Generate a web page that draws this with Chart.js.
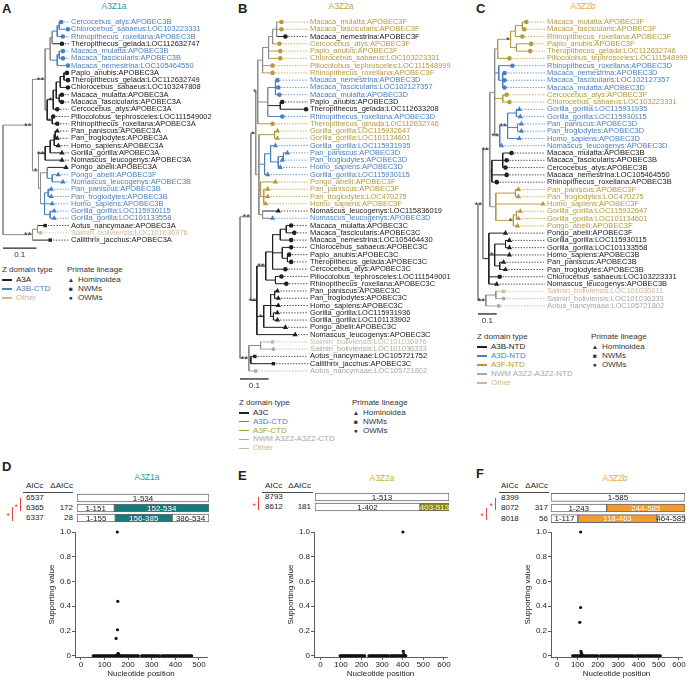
<!DOCTYPE html>
<html>
<head>
<meta charset="utf-8">
<title>A3Z trees and breakpoint support</title>
<script src="https://cdn.jsdelivr.net/npm/chart.js@4.4.1/dist/chart.umd.min.js"></script>
<style>
  html, body { margin: 0; padding: 0; background: #fff; }
  #fig { position: relative; width: 696px; height: 680px; overflow: hidden;
         font-family: "Liberation Sans", Arial, Helvetica, sans-serif; color: #222; }
  #fig canvas { position: absolute; }
  .t { position: absolute; white-space: nowrap; font-size: 8px; line-height: 10px; }
  .ln { position: absolute; }
</style>
</head>
<body>
<div id="fig"></div>
<script>
/* global Chart */
(function () {
  "use strict";

  // ---------- A: A3Z1a tree ----------
  const leavesA = [
    "Cercocebus_atys:APOBEC3B", "Chlorocebus_sabaeus:LOC103223331", "Rhinopithecus_roxellana:APOBEC3B",
    "Theropithecus_gelada:LOC112632747", "Macaca_mulatta:APOBEC3B", "Macaca_fascicularis:APOBEC3B",
    "Macaca_nemestrina:LOC105464550", "Papio_anubis:APOBEC3A", "Theropithecus_gelada:LOC112632749",
    "Chlorocebus_sabaeus:LOC103247808", "Macaca_mulatta:APOBEC3A", "Macaca_fascicularis:APOBEC3A",
    "Cercocebus_atys:APOBEC3A", "Piliocolobus_tephrosceles:LOC111549002", "Rhinopithecus_roxellana:APOBEC3A",
    "Pan_paniscus:APOBEC3A", "Pan_troglodytes:APOBEC3A", "Homo_sapiens:APOBEC3A", "Gorilla_gorilla:APOBEC3A",
    "Nomascus_leucogenys:APOBEC3A", "Pongo_abelii:APOBEC3A", "Pongo_abelii:APOBEC3F",
    "Nomascus_leucogenys:APOBEC3B", "Pan_paniscus:APOBEC3B", "Pan_troglodytes:APOBEC3B",
    "Homo_sapiens:APOBEC3B", "Gorilla_gorilla:LOC115930115", "Gorilla_gorilla:LOC101133558",
    "Aotus_nancymaae:APOBEC3A", "Saimiri_boliviensis:LOC101036976", "Callithrix_jacchus:APOBEC3A",
  ];
  const domainsA = ["A3A", "A3B-CTD", "Other"];
  const typesA = [1, 1, 1, 0, 1, 1, 1, 0, 0, 0, 0, 0, 0, 0, 0, 0, 0, 0, 0, 0, 0, 1, 1, 1, 1, 1, 1, 1, 0, 2, 0];
  // newick-like: leaf index or support label, ":" distance from the root
  const treeA =
    "((((((((0:0.174,1:0.194):0.168,2:0.179):0.162,3:0.176):0.147,((4:0.179,5:0.179):0.168,6:0.194):0.162):0.141," +
    "(((((7:0.191,8:0.194):0.182,9:0.194):0.171,(10:0.176,11:0.176):0.168):0.159,12:0.162)*:0.150," +
    "(13:0.150,14:0.162)*:0.147):0.132)**:0.126," +
    "(((((15:0.162,16:0.162):0.156,17:0.165):0.153,18:0.176):0.141,19:0.176)**:0.126," +
    "((20:0.188,(21:0.165,22:0.179):0.147):0.132,((23:0.144,24:0.144):0.135,25:0.147,(26:0.153,27:0.153):0.141):0.124):0.112)*:0.106)**:0.088," +
    "((28:0.126,29:0.112):0.103,30:0.141)**:0.088):0";

  // ---------- B: A3Z2a tree ----------
  const leavesB = [
    "Macaca_mulatta:APOBEC3F", "Macaca_fascicularis:APOBEC3F", "Macaca_nemestrina:APOBEC3F",
    "Cercocebus_atys:APOBEC3F", "Papio_anubis:APOBEC3F", "Chlorocebus_sabaeus:LOC103223331",
    "Piliocolobus_tephrosceles:LOC111548999", "Rhinopithecus_roxellana:APOBEC3F", "Macaca_nemestrina:APOBEC3D",
    "Macaca_fascicularis:LOC102127357", "Macaca_mulatta:APOBEC3D", "Papio_anubis:APOBEC3D",
    "Theropithecus_gelada:LOC112633208", "Rhinopithecus_roxellana:APOBEC3D", "Theropithecus_gelada:LOC112632746",
    "Gorilla_gorilla:LOC115932647", "Gorilla_gorilla:LOC101134601", "Gorilla_gorilla:LOC115931935",
    "Pan_paniscus:APOBEC3D", "Pan_troglodytes:APOBEC3D", "Homo_sapiens:APOBEC3D", "Gorilla_gorilla:LOC115930115",
    "Pongo_abelii:APOBEC3F", "Pan_paniscus:APOBEC3F", "Pan_troglodytes:LOC470275", "Homo_sapiens:APOBEC3F",
    "Nomascus_leucogenys:LOC115836019", "Nomascus_leucogenys:APOBEC3D", "Macaca_mulatta:APOBEC3C",
    "Macaca_fascicularis:APOBEC3C", "Macaca_nemestrina:LOC105464430", "Chlorocebus_sabaeus:APOBEC3C",
    "Papio_anubis:APOBEC3C", "Theropithecus_gelada:APOBEC3C", "Cercocebus_atys:APOBEC3C",
    "Piliocolobus_tephrosceles:LOC111549001", "Rhinopithecus_roxellana:APOBEC3C", "Pan_paniscus:APOBEC3C",
    "Pan_troglodytes:APOBEC3C", "Homo_sapiens:APOBEC3C", "Gorilla_gorilla:LOC115931936",
    "Gorilla_gorilla:LOC101133902", "Pongo_abelii:APOBEC3C", "Nomascus_leucogenys:APOBEC3C",
    "Saimiri_boliviensis:LOC101036976", "Saimiri_boliviensis:LOC101036333", "Aotus_nancymaae:LOC105721752",
    "Callithrix_jacchus:APOBEC3C", "Aotus_nancymaae:LOC105721802",
  ];
  const domainsB = ["A3C", "A3D-CTD", "A3F-CTD", "NWM A3Z2-A3Z2-CTD", "Other"];
  const typesB = [
    2, 2, 0, 2, 2, 2, 2, 2, 1, 1, 1, 0, 0, 1, 2, 2, 2, 1, 1, 1, 1, 1, 2, 2, 2, 2, 0, 1,
    0, 0, 0, 0, 0, 0, 0, 0, 0, 0, 0, 0, 0, 0, 0, 0, 4, 3, 0, 0, 3,
  ];
  const treeB =
    "((((((((0:0.145,1:0.145,2:0.159):0.128,3:0.138):0.114,4:0.141,5:0.141):0.100,6:0.114,7:0.114):0.079," +
    "((8:0.131,9:0.134,10:0.138):0.124,(11:0.148,12:0.231):0.141,13:0.148):0.097,14:0.114)*:0.062," +
    "((15:0.131,16:0.131):0.121,((17:0.124,((18:0.166,19:0.148):0.152,20:0.141):0.134):0.107,21:0.097):0.086," +
    "(22:0.124,(23:0.097,24:0.097,25:0.090):0.083):0.072,(26:0.134,27:0.114):0.079):0.066)*:0.055," +
    "(((((28:0.179,29:0.190):0.162,30:0.179):0.141,(31:0.179,(32:0.172,33:0.179):0.166):0.148,34:0.159):0.114," +
    "(35:0.145,36:0.162):0.124)**:0.090,(((37:0.131,38:0.134):0.121,39:0.134,(40:0.131,41:0.131):0.117):0.107," +
    "42:0.159)*:0.083,43:0.193)**:0.059)**:0.038," +
    "((44:0.114,45:0.117):0.072,(46:0.052,47:0.117):0.038,48:0.055)**:0.031):0";

  // ---------- C: A3Z2b tree ----------
  const leavesC = [
    "Macaca_mulatta:APOBEC3F", "Macaca_fascicularis:APOBEC3F", "Rhinopithecus_roxellana:APOBEC3F",
    "Papio_anubis:APOBEC3F", "Theropithecus_gelada:LOC112632746", "Piliocolobus_tephrosceles:LOC111548999",
    "Rhinopithecus_roxellana:APOBEC3D", "Macaca_nemestrina:APOBEC3D", "Macaca_fascicularis:LOC102127357",
    "Macaca_mulatta:APOBEC3D", "Cercocebus_atys:APOBEC3F", "Chlorocebus_sabaeus:LOC103223331",
    "Gorilla_gorilla:LOC115931935", "Gorilla_gorilla:LOC115930115", "Pan_paniscus:APOBEC3D",
    "Pan_troglodytes:APOBEC3D", "Homo_sapiens:APOBEC3D", "Nomascus_leucogenys:APOBEC3D",
    "Macaca_mulatta:APOBEC3B", "Macaca_fascicularis:APOBEC3B", "Cercocebus_atys:APOBEC3B",
    "Macaca_nemestrina:LOC105464550", "Rhinopithecus_roxellana:APOBEC3B", "Pan_paniscus:APOBEC3F",
    "Pan_troglodytes:LOC470275", "Homo_sapiens:APOBEC3F", "Gorilla_gorilla:LOC115932647",
    "Gorilla_gorilla:LOC101134601", "Pongo_abelii:APOBEC3F", "Pongo_abelii:APOBEC3F",
    "Gorilla_gorilla:LOC115930115", "Gorilla_gorilla:LOC101133558", "Homo_sapiens:APOBEC3B",
    "Pan_paniscus:APOBEC3B", "Pan_troglodytes:APOBEC3B", "Chlorocebus_sabaeus:LOC103223331",
    "Nomascus_leucogenys:APOBEC3B", "Saimiri_boliviensis:LOC101036011", "Saimiri_boliviensis:LOC101036333",
    "Aotus_nancymaae:LOC105721802",
  ];
  const domainsC = ["A3B-NTD", "A3D-NTD", "A3F-NTD", "NWM A3Z2-A3Z2-NTD", "Other"];
  const typesC = [
    2, 2, 2, 2, 2, 2, 1, 1, 1, 1, 2, 2, 1, 1, 1, 1, 1, 1, 0, 0, 0, 0, 0,
    2, 2, 2, 2, 2, 2, 0, 0, 0, 0, 0, 0, 0, 0, 4, 3, 3,
  ];
  const treeC =
    "((((((((0:0.258,1:0.247):0.237,2:0.237):0.200,(3:0.284,4:0.279):0.205)*:0.174,5:0.168):0.105," +
    "(6:0.184,(7:0.142,8:0.142,9:0.142):0.132):0.111,(10:0.153,11:0.168):0.132," +
    "(((12:0.221,13:0.226):0.205,(14:0.232,15:0.232):0.211,16:0.221)**:0.158,17:0.126)**:0.116):0.089," +
    "((18:0.179,19:0.153,20:0.147):0.132,21:0.153,22:0.100):0.074," +
    "((23:0.216,24:0.216):0.200,25:0.347,((26:0.226,27:0.216):0.205,28:0.211)*:0.189):0.095)**:0.063," +
    "(29:0.147,((30:0.168,31:0.168):0.147,32:0.168,(33:0.137,34:0.147):0.116)*:0.089,35:0.116,36:0.100):0.058)**:0.026," +
    "((37:0.137,38:0.137):0.095,39:0.111)**:0.042):0";

  const SCALE_BAR = 0.1;
  const lineageNames = ["Hominoidea", "NWMs", "OWMs"];
  const hominoidGenera = ["Homo", "Pan", "Gorilla", "Pongo", "Nomascus"];
  const nwmGenera = ["Aotus", "Saimiri", "Callithrix"];

  // ---------- D/E/F: breakpoint models and supporting values ----------
  const aiccD = [6537, 6365, 6337];
  const deltaD = [null, 172, 28];
  const segmentsD = [[[1, 534]], [[1, 151], [152, 534]], [[1, 155], [156, 385], [386, 534]]];
  const highlightD = [[0], [0, 1], [0, 1, 0]];
  const lengthD = 534;
  const zeroD = [
    52, 57, 62, 66, 71, 76, 81, 86, 90, 95, 100, 105, 110, 114, 119, 124, 129, 134, 139, 143, 148, 152, 157,
    162, 167, 171, 176, 181, 186, 191, 195, 200, 205, 210, 214, 219, 224, 229, 234, 239, 243,
    257, 262, 267, 272, 277, 281, 286, 291, 296, 301, 306, 311, 316, 321, 326, 332,
    342, 347, 352, 357, 362, 367, 372, 377, 382, 386, 391, 396, 401, 406, 411, 416, 421, 426, 431, 436,
    441, 446, 451, 456, 461, 465, 469,
  ];
  const peakD = [[149, 0.14], [155, 0.21], [156, 0.44], [154, 1.0], [158, 0.02], [160, 0.012], [153, 0.008]];
  const xTicksD = [0, 100, 200, 300, 400, 500];

  const aiccE = [8793, 8612];
  const deltaE = [null, 181];
  const segmentsE = [[[1, 513]], [[1, 402], [403, 513]]];
  const highlightE = [[0], [0, 1]];
  const lengthE = 513;
  const zeroE = [
    96, 101, 106, 111, 116, 121, 126, 131, 136, 141, 146, 151, 156, 161, 166, 171, 176, 181, 186, 191, 196,
    201, 206, 211, 215, 236, 241, 246, 251, 256, 261, 266, 271, 276, 281, 286, 291, 296, 301, 306, 311,
    316, 321, 326, 330, 341, 346, 351, 356, 361, 366, 371, 376, 381, 386, 391, 396, 401, 406, 411, 415,
  ];
  const peakE = [[401, 1.0], [403, 0.035], [405, 0.012], [408, 0.006]];
  const xTicksE = [0, 100, 200, 300, 400, 500, 600];

  const aiccF = [8399, 8072, 8018];
  const deltaF = [null, 317, 56];
  const segmentsF = [[[1, 585]], [[1, 243], [244, 585]], [[1, 117], [118, 463], [464, 585]]];
  const highlightF = [[0], [0, 1], [0, 1, 0]];
  const lengthF = 585;
  const zeroF = [
    76, 82, 88, 94, 100, 106, 112, 118, 124, 130, 136, 142, 148, 154, 160, 166, 172, 178, 184, 190, 196, 202,
    214, 220, 226, 232, 238, 244, 250, 256, 262, 268, 274, 280, 286, 292, 298, 304, 310, 316, 322, 328, 334,
    340, 346, 352, 358, 364, 370, 376, 388, 394, 400, 406, 412, 418, 424, 430, 436, 442, 448, 454, 460, 466,
    472, 478, 484, 490, 496, 502, 508,
  ];
  const peakF = [[111, 0.27], [115, 0.39], [115, 1.0], [117, 0.035], [119, 0.02], [121, 0.012]];
  const xTicksF = [0, 100, 200, 300, 400, 500, 600];

  const yTicks = [0, 0.2, 0.4, 0.6, 0.8, 1.0];

  // ---------- styles ----------
  const FONT = '"Liberation Sans", Arial, Helvetica, sans-serif';
  const LEAF_FONT = 7.5;
  const BLACK = "#202020";
  const BLUE = "#4a7fc0";
  const GOLD = "#b59a3c";
  const NWMGREY = "#a8a8a8";
  const TAN = "#cfb796";
  const MIXED = "#8c8c8c";
  const RED = "#e5403b";
  const palA = [BLACK, BLUE, TAN];
  const palBC = [BLACK, BLUE, GOLD, NWMGREY, TAN];

  Chart.defaults.font.family = FONT;
  Chart.defaults.font.size = 8;
  Chart.defaults.color = "#222";

  const fig = document.getElementById("fig");

  function addText(x, y, s, o = {}) {
    const el = document.createElement("div");
    el.className = "t";
    el.textContent = s;
    el.style.left = x + "px";
    el.style.top = y + "px";
    const ax = o.align === "right" ? "-100%" : o.align === "center" ? "-50%" : "0";
    el.style.transform = `translate(${ax},-50%)`;
    if (o.color) el.style.color = o.color;
    if (o.size) el.style.fontSize = o.size + "px";
    if (o.bold) el.style.fontWeight = "bold";
    fig.appendChild(el);
    return el;
  }

  function addRule(x, y, w, h, color) {
    const el = document.createElement("div");
    el.className = "ln";
    Object.assign(el.style, { left: x + "px", top: y + "px", width: w + "px", height: h + "px", background: color });
    fig.appendChild(el);
  }

  function addCanvas(left, top, w, h) {
    const c = document.createElement("canvas");
    c.width = w;
    c.height = h;
    Object.assign(c.style, { left: left + "px", top: top + "px", width: w + "px", height: h + "px" });
    fig.appendChild(c);
    return c;
  }

  function parseTree(str) {
    let i = 0;
    function node() {
      const nd = { children: [], depth: 0 };
      if (str[i] === "(") {
        i++;
        nd.children.push(node());
        while (str[i] === ",") {
          i++;
          nd.children.push(node());
        }
        i++;
      }
      let name = "";
      while (i < str.length && !":,()".includes(str[i])) name += str[i++];
      if (str[i] === ":") {
        i++;
        let num = "";
        while (i < str.length && !",()".includes(str[i])) num += str[i++];
        nd.depth = parseFloat(num);
      }
      if (nd.children.length) nd.support = name;
      else nd.leaf = parseInt(name, 10);
      return nd;
    }
    return node();
  }

  function lineageOf(label) {
    const genus = label.split("_")[0];
    return hominoidGenera.includes(genus) ? 0 : nwmGenera.includes(genus) ? 1 : 2;
  }

  function drawTree(t) {
    const { leaves, types, pal, g } = t;
    const n = leaves.length;
    const root = parseTree(t.newick);

    (function place(nd) {
      if (!nd.children.length) {
        nd.y = nd.leaf;
        nd.tipTypes = [types[nd.leaf]];
        return;
      }
      nd.children.forEach(place);
      nd.y = (nd.children[0].y + nd.children[nd.children.length - 1].y) / 2;
      nd.tipTypes = nd.children.flatMap((c) => c.tipTypes);
    })(root);

    const colorOf = (nd) => (nd.tipTypes.every((v) => v === nd.tipTypes[0]) ? pal[nd.tipTypes[0]] : MIXED);
    const branches = new Map();
    const addSeg = (c, x0, y0, x1, y1) => {
      if (!branches.has(c)) branches.set(c, []);
      branches.get(c).push({ x: x0, y: y0 }, { x: x1, y: y1 }, { x: null, y: null });
    };
    const supports = [];
    const tips = [];
    (function walk(nd) {
      if (!nd.children.length) {
        tips.push({ x: nd.depth, y: nd.leaf });
        return;
      }
      const first = nd.children[0];
      const last = nd.children[nd.children.length - 1];
      addSeg(colorOf(nd), nd.depth, first.y, nd.depth, last.y);
      nd.children.forEach((c) => {
        addSeg(colorOf(c), nd.depth, c.y, c.depth, c.y);
        walk(c);
      });
      if (nd.support) supports.push(nd);
    })(root);

    // geometry
    const top = Math.round(g.leaf0Y - g.pitch / 2);
    const yMin = -(g.leaf0Y - top) / g.pitch;
    const chartH = Math.round((n + 0.7 - yMin) * g.pitch);
    const yMax = yMin + chartH / g.pitch;
    const areaRight = g.labelX - 2;
    const xMax = ((areaRight - g.rootX) / g.barPx) * SCALE_BAR;
    const cLeft = g.rootX - 3;
    const cTop = top - 8;
    const cW = g.right - cLeft;
    const labelW = g.right - areaRight;
    const canvas = addCanvas(cLeft, cTop, cW, chartH + 16);

    const connectors = new Map();
    tips.forEach((p) => {
      const c = pal[types[p.y]];
      if (!connectors.has(c)) connectors.set(c, []);
      connectors.get(c).push({ x: p.x, y: p.y }, { x: xMax, y: p.y }, { x: null, y: null });
    });

    const styles = ["triangle", "rect", "circle"];
    const radii = [3.1, 2.4, 2.3];
    const datasets = [
      {
        data: tips,
        showLine: false,
        pointStyle: (ctx) => styles[lineageOf(leaves[ctx.raw.y])],
        pointRadius: (ctx) => radii[lineageOf(leaves[ctx.raw.y])],
        backgroundColor: (ctx) => pal[types[ctx.raw.y]],
        borderWidth: 0,
        clip: false,
      },
    ];
    branches.forEach((pts, c) =>
      datasets.push({ data: pts, showLine: true, borderColor: c, borderWidth: 1, pointRadius: 0, clip: false })
    );
    connectors.forEach((pts, c) =>
      datasets.push({
        data: pts,
        showLine: true,
        borderColor: c,
        borderWidth: 0.8,
        borderDash: [1.4, 1.4],
        pointRadius: 0,
        clip: false,
      })
    );
    const barY = n + 0.1;
    datasets.push({
      data: [{ x: 0, y: barY }, { x: SCALE_BAR, y: barY }],
      showLine: true,
      borderColor: "#222",
      borderWidth: 1.3,
      pointRadius: 0,
      clip: false,
    });

    new Chart(canvas, {
      type: "scatter",
      data: { datasets },
      options: {
        responsive: false,
        animation: false,
        devicePixelRatio: 1,
        events: [],
        layout: { padding: { left: 3, right: 0, top: 8, bottom: 8 } },
        plugins: { legend: { display: false }, tooltip: { enabled: false } },
        scales: {
          x: { type: "linear", display: false, min: 0, max: xMax },
          y: {
            type: "linear",
            position: "right",
            reverse: true,
            min: yMin,
            max: yMax,
            grid: { display: false, drawTicks: false },
            border: { display: false },
            afterBuildTicks: (ax) => {
              ax.ticks = leaves.map((_, i) => ({ value: i }));
            },
            afterFit: (ax) => {
              ax.width = labelW;
            },
            ticks: {
              autoSkip: false,
              padding: 2,
              font: { size: LEAF_FONT },
              color: (ctx) => pal[types[ctx.tick.value]],
              callback: (v) => leaves[v],
            },
          },
        },
      },
      plugins: [
        {
          id: "treeText",
          afterDatasetsDraw(chart) {
            const { ctx } = chart;
            const xs = chart.scales.x;
            const ys = chart.scales.y;
            ctx.save();
            ctx.fillStyle = "#333";
            ctx.font = `9.5px ${FONT}`;
            ctx.textAlign = "right";
            ctx.textBaseline = "alphabetic";
            supports.forEach((nd) => {
              ctx.fillText(nd.support, xs.getPixelForValue(nd.depth) - 1, ys.getPixelForValue(nd.y) + 3.5);
            });
            ctx.font = `8px ${FONT}`;
            ctx.textAlign = "center";
            ctx.textBaseline = "top";
            ctx.fillText(String(SCALE_BAR), xs.getPixelForValue(SCALE_BAR / 2), ys.getPixelForValue(barY) + 3);
            ctx.restore();
          },
        },
      ],
    });
  }

  function drawTreeLegend(l, domains, pal) {
    addText(l.x, l.y, "Z domain type", { color: "#333" });
    domains.forEach((d, i) => {
      const y = l.y + 10 + i * l.step;
      addRule(l.x, y - 0.6, 10, 1.3, pal[i]);
      addText(l.x + 14, y, d, { color: pal[i] });
    });
    addText(l.x2, l.y, "Primate lineage", { color: "#333" });
    const syms = ["\u25B2", "\u25A0", "\u25CF"];
    lineageNames.forEach((nm, i) => {
      const y = l.y + 10 + i * l.step;
      addText(l.x2 + 4, y, syms[i], { align: "center", size: 6.5, color: "#333" });
      addText(l.x2 + 11, y, nm, { color: "#333" });
    });
  }

  function drawSegments(s, segs, hl, len, fill, hlText) {
    const rows = segs.length;
    const w = s.right - s.left;
    const h = Math.round(rows * s.rowH);
    const canvas = addCanvas(s.left - 1, s.top - 1, w + 2, h + 2);
    const maxK = Math.max(...segs.map((r) => r.length));
    const datasets = [];
    for (let k = 0; k < maxK; k++) {
      datasets.push({
        data: segs.map((r) => (r[k] ? [r[k][0] - 1, r[k][1]] : null)),
        backgroundColor: segs.map((r, ri) => (hl[ri][k] ? fill : "#ffffff")),
        borderColor: "#6a6a6a",
        borderWidth: 1,
        borderSkipped: false,
        grouped: false,
        barThickness: 8,
      });
    }
    new Chart(canvas, {
      type: "bar",
      data: { labels: segs.map((_, i) => "model " + (i + 1)), datasets },
      options: {
        indexAxis: "y",
        responsive: false,
        animation: false,
        devicePixelRatio: 1,
        events: [],
        layout: { padding: 1 },
        plugins: { legend: { display: false }, tooltip: { enabled: false } },
        scales: {
          x: { type: "linear", display: false, min: 0, max: len },
          y: { display: false },
        },
      },
      plugins: [
        {
          id: "segText",
          afterDatasetsDraw(chart) {
            const { ctx } = chart;
            ctx.save();
            ctx.font = `8px ${FONT}`;
            ctx.textAlign = "center";
            ctx.textBaseline = "middle";
            chart.data.datasets.forEach((ds, k) => {
              chart.getDatasetMeta(k).data.forEach((el, r) => {
                const seg = segs[r][k];
                if (!seg) return;
                ctx.fillStyle = hl[r][k] ? hlText : "#222";
                ctx.fillText(`${seg[0]}-${seg[1]}`, (el.x + el.base) / 2, el.y + 0.5);
              });
            });
            ctx.restore();
          },
        },
      ],
    });
  }

  function drawSupport(p, zeros, peaks, xTicks) {
    const cLeft = p.axisX - 32;
    const cTop = 525;
    const canvas = addCanvas(cLeft, cTop, p.right + 8 - cLeft, 680 - cTop);
    const pts = zeros.map((x) => ({ x, y: 0 })).concat(peaks.map(([x, y]) => ({ x, y })));
    const axisCol = "#333";
    new Chart(canvas, {
      type: "scatter",
      data: {
        datasets: [
          { data: pts, pointRadius: 1.6, backgroundColor: "#111", borderWidth: 0, clip: false },
        ],
      },
      options: {
        responsive: false,
        animation: false,
        devicePixelRatio: 1,
        events: [],
        layout: { padding: { left: 0, right: 8, top: 7, bottom: 0 } },
        plugins: { legend: { display: false }, tooltip: { enabled: false } },
        scales: {
          x: {
            type: "linear",
            min: p.xMin,
            max: p.xMax,
            afterBuildTicks: (ax) => {
              ax.ticks = xTicks.map((v) => ({ value: v }));
            },
            afterFit: (ax) => {
              ax.height = 23;
            },
            grid: { drawOnChartArea: false, tickLength: 3, color: axisCol, lineWidth: 0.8 },
            border: { color: axisCol, width: 0.8 },
            ticks: { padding: 0, maxRotation: 0, autoSkip: false, color: "#222" },
            title: { display: true, text: "Nucleotide position", color: "#222", padding: { top: 0, bottom: 1 } },
          },
          y: {
            type: "linear",
            min: -0.01,
            max: 1,
            afterBuildTicks: (ax) => {
              ax.ticks = yTicks.map((v) => ({ value: v }));
            },
            afterFit: (ax) => {
              ax.width = 32;
            },
            grid: { drawOnChartArea: false, tickLength: 3, color: axisCol, lineWidth: 0.8 },
            border: { color: axisCol, width: 0.8 },
            ticks: { padding: 1, color: "#222", callback: (v) => (v === 0 ? "0" : v.toFixed(1)) },
            title: { display: true, text: "Supporting value", color: "#222", padding: { top: 4, bottom: 0 } },
          },
        },
      },
    });
  }

  function drawModelTable(m, aicc, delta) {
    addText(m.x, 486, "AICc");
    addText(m.dx, 486, "\u0394AICc", { align: "right" });
    addRule(m.ulx, 492, m.ulw, 0.8, "#444");
    aicc.forEach((v, i) => {
      const y = m.rowY[i];
      addText(m.x, y, String(v));
      if (delta[i] != null) addText(m.dx, y, String(delta[i]), { align: "right" });
    });
    m.brackets.forEach((b) => {
      addRule(b.x, b.y0, 1, b.y1 - b.y0, RED);
      addText(b.x - 2, (b.y0 + b.y1) / 2 + 2, "*", { align: "right", color: RED, size: 9 });
    });
  }

  // ---------- panel letters and titles ----------
  addText(2, 9, "A", { bold: true, size: 13 });
  addText(238, 9, "B", { bold: true, size: 13 });
  addText(476, 9, "C", { bold: true, size: 13 });
  addText(114, 6, "A3Z1a", { align: "center", color: "#2e97a6", size: 8.5 });
  addText(341, 6, "A3Z2a", { align: "center", color: "#bba43a", size: 8.5 });
  addText(583, 6, "A3Z2b", { align: "center", color: "#f5a233", size: 8.5 });

  drawTree({ leaves: leavesA, types: typesA, pal: palA, newick: treeA,
    g: { rootX: 2, labelX: 71, right: 232, leaf0Y: 22, pitch: 7.27, barPx: 34 } });
  drawTree({ leaves: leavesB, types: typesB, pal: palBC, newick: treeB,
    g: { rootX: 239, labelX: 310, right: 464, leaf0Y: 22, pitch: 7.27, barPx: 29 } });
  drawTree({ leaves: leavesC, types: typesC, pal: palBC, newick: treeC,
    g: { rootX: 477, labelX: 547, right: 696, leaf0Y: 22, pitch: 7.28, barPx: 19 } });

  drawTreeLegend({ x: 2, y: 270, x2: 67, step: 9 }, domainsA, palA);
  drawTreeLegend({ x: 239, y: 403, x2: 352, step: 8.8 }, domainsB, palBC);
  drawTreeLegend({ x: 477, y: 337, x2: 591, step: 9 }, domainsC, palBC);

  // ---------- D/E/F ----------
  addText(2, 467, "D", { bold: true, size: 13 });
  addText(238, 476, "E", { bold: true, size: 13 });
  addText(476, 474, "F", { bold: true, size: 13 });
  addText(147, 477, "A3Z1a", { align: "center", color: "#2e97a6", size: 8.5 });
  addText(382, 478, "A3Z2a", { align: "center", color: "#bdb23a", size: 8.5 });
  addText(615, 478, "A3Z2b", { align: "center", color: "#f5a233", size: 8.5 });

  drawModelTable({ x: 26, dx: 73, ulx: 23, ulw: 50, rowY: [498, 508, 518],
    brackets: [{ x: 20, y0: 498, y1: 511 }, { x: 12, y0: 507, y1: 521 }] }, aiccD, deltaD);
  drawModelTable({ x: 265, dx: 311, ulx: 262, ulw: 51, rowY: [497, 507],
    brackets: [{ x: 258, y0: 497, y1: 510 }] }, aiccE, deltaE);
  drawModelTable({ x: 501, dx: 548, ulx: 499, ulw: 50, rowY: [497.5, 508, 518.5],
    brackets: [{ x: 495, y0: 498, y1: 510 }, { x: 486, y0: 508, y1: 520 }] }, aiccF, deltaF);

  drawSegments({ left: 77, right: 209, top: 493, rowH: 10 }, segmentsD, highlightD, lengthD, "#157a80", "#ffffff");
  drawSegments({ left: 315, right: 449, top: 492, rowH: 10 }, segmentsE, highlightE, lengthE, "#8e8b1e", "#f4f1c8");
  drawSegments({ left: 551, right: 685, top: 492, rowH: 10.5 }, segmentsF, highlightF, lengthF, "#f39b2e", "#ffffff");

  drawSupport({ axisX: 75, right: 207, xMin: -25, xMax: 534 }, zeroD, peakD, xTicksD);
  drawSupport({ axisX: 314, right: 447, xMin: -31, xMax: 615 }, zeroE, peakE, xTicksE);
  drawSupport({ axisX: 551, right: 682, xMin: -31, xMax: 615 }, zeroF, peakF, xTicksF);
})();
</script>
</body>
</html>
